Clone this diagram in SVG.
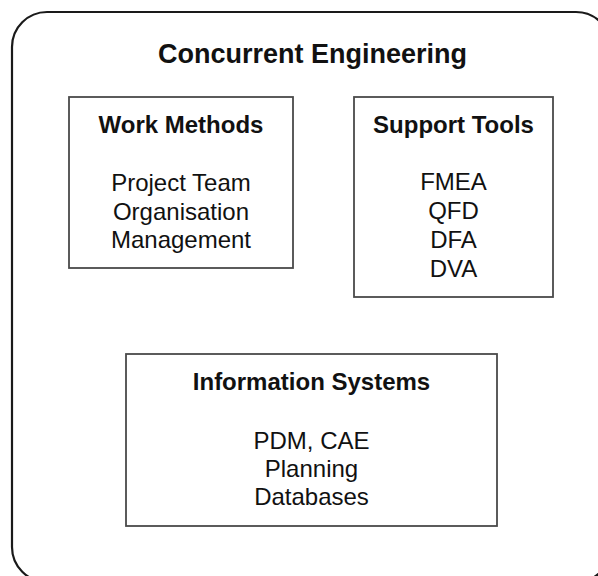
<svg xmlns="http://www.w3.org/2000/svg" width="598" height="576" viewBox="0 0 598 576">
  <style>
    .frame { fill: #ffffff; stroke: #1a1a1a; stroke-width: 2.2; }
    .box { fill: #ffffff; stroke: #4a4a4a; stroke-width: 1.8; }
    text { font-family: "Liberation Sans", Arial, sans-serif; fill: #111111; text-anchor: middle; }
    .title { font-size: 27px; font-weight: bold; }
    .head { font-size: 24px; font-weight: bold; }
    .item { font-size: 24px; }
  </style>
  <rect width="598" height="576" fill="#ffffff"/>

  <!-- outer container, partly running past the canvas edge -->
  <g id="concurrent-engineering">
    <rect class="frame" x="12" y="12" width="599" height="570" rx="35" ry="35"/>
    <text class="title" x="312.5" y="63">Concurrent Engineering</text>
  </g>

  <g id="work-methods">
    <rect class="box" x="69" y="97" width="224" height="171"/>
    <text class="head" x="181" y="132.5">Work Methods</text>
    <text class="item" x="181" y="191">Project Team</text>
    <text class="item" x="181" y="219.5">Organisation</text>
    <text class="item" x="181" y="248">Management</text>
  </g>

  <g id="support-tools">
    <rect class="box" x="354" y="97" width="199" height="200"/>
    <text class="head" x="453.5" y="132.5">Support Tools</text>
    <text class="item" x="453.5" y="190">FMEA</text>
    <text class="item" x="453.5" y="219">QFD</text>
    <text class="item" x="453.5" y="248">DFA</text>
    <text class="item" x="453.5" y="277">DVA</text>
  </g>

  <g id="information-systems">
    <rect class="box" x="126" y="354" width="371" height="172"/>
    <text class="head" x="311.5" y="390">Information Systems</text>
    <text class="item" x="311.5" y="448.5">PDM, CAE</text>
    <text class="item" x="311.5" y="477">Planning</text>
    <text class="item" x="311.5" y="505">Databases</text>
  </g>

  <g id="connectors"></g>
</svg>
